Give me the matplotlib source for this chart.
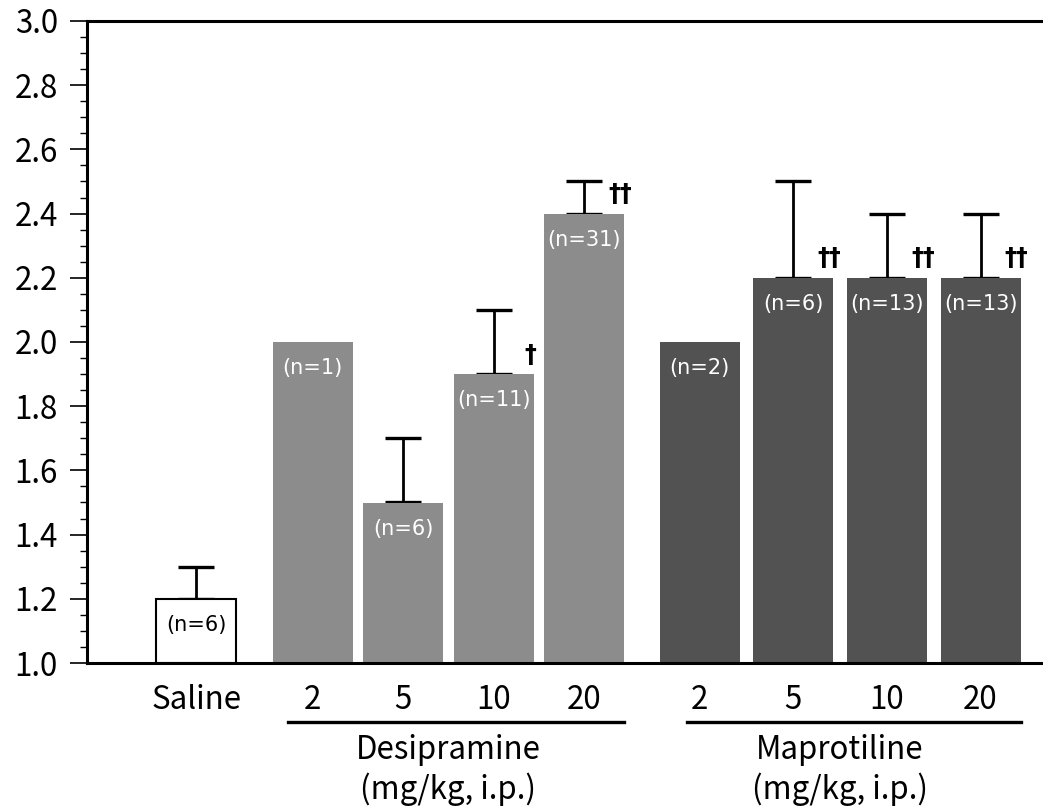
import numpy as np
import matplotlib
matplotlib.use("Agg")
import matplotlib.pyplot as plt
from matplotlib.ticker import MultipleLocator
import matplotlib.transforms as mtransforms

plt.rcParams['font.family'] = ['Noto Sans CJK JP', 'DejaVu Sans']

# data
tick_labels = ["Saline", "2", "5", "10", "20", "2", "5", "10", "20"]
groups = ["Saline", "Desipramine", "Desipramine", "Desipramine", "Desipramine",
          "Maprotiline", "Maprotiline", "Maprotiline", "Maprotiline"]
means = [1.2, 2.0, 1.5, 1.9, 2.4, 2.0, 2.2, 2.2, 2.2]
upper_err = [0.1, 0.0, 0.2, 0.2, 0.1, 0.0, 0.3, 0.2, 0.2]
n_labels = ["(n=6)", "(n=1)", "(n=6)", "(n=11)", "(n=31)",
            "(n=2)", "(n=6)", "(n=13)", "(n=13)"]
marks = ["", "", "", "\u2020", "\u2020\u2020", "", "\u2020\u2020", "\u2020\u2020", "\u2020\u2020"]
group_names = ["Desipramine", "Maprotiline"]
unit_label = "(mg/kg, i.p.)"

colors = {"Saline": "white", "Desipramine": "#8c8c8c", "Maprotiline": "#525252"}
text_colors = {"Saline": "black", "Desipramine": "white", "Maprotiline": "white"}

# x positions (layout)
x = np.array([0.0] + [1.265 + 0.984 * i for i in range(4)] + [5.47 + 1.018 * i for i in range(4)])
width = 0.87

fig = plt.figure(figsize=(10.43, 8.08), dpi=100)
ax = fig.add_axes([87 / 1043, 1 - 663 / 808, 1 - 87 / 1043, (663 - 21) / 808])

for i in range(len(means)):
    g = groups[i]
    ax.bar(x[i], means[i] - 1.0, bottom=1.0, width=width, color=colors[g],
           edgecolor="black" if g == "Saline" else "none",
           linewidth=1.5 if g == "Saline" else 0, zorder=2)
    if upper_err[i] > 0:
        ax.errorbar(x[i], means[i], yerr=[[0], [upper_err[i]]], fmt="none",
                    ecolor="black", elinewidth=2, capsize=13, capthick=2.4, zorder=1)
    ax.annotate(n_labels[i], (x[i], means[i]), xytext=(0, -19), textcoords="offset points",
                ha="center", va="center", fontsize=15, color=text_colors[g], zorder=3,
                family="DejaVu Sans")
    if marks[i]:
        ax.annotate(marks[i], (x[i], means[i]), xytext=(26, 14), textcoords="offset points",
                    ha="center", va="center", fontsize=17, fontweight="bold", color="black",
                    family="DejaVu Sans")

ax.set_ylim(1.0, 3.0)
ax.set_xlim(-1.188, 9.203)
ax.yaxis.set_major_locator(MultipleLocator(0.2))
ax.yaxis.set_minor_locator(MultipleLocator(0.05))
ax.yaxis.set_major_formatter(plt.FormatStrFormatter("%.1f"))
ax.tick_params(axis="y", which="major", length=12, width=1.2, labelsize=22.5, pad=9)
ax.tick_params(axis="y", which="minor", length=5, width=1.0)

ax.set_xticks(x)
ax.set_xticklabels(tick_labels)
ax.tick_params(axis="x", length=0, labelsize=22.5, pad=15)

for s in ["left", "bottom", "top"]:
    ax.spines[s].set_linewidth(2.2)
ax.spines["right"].set_visible(False)

# group underlines and labels
trans = mtransforms.blended_transform_factory(ax.transData, ax.transAxes)
line_spans = [(x[1] - 0.27, x[4] + 0.435), (x[5] - 0.14, x[8] + 0.435)]
group_centers = [x[1:5].mean(), x[5:9].mean()]
for (x0, x1), xc, name in zip(line_spans, group_centers, group_names):
    ax.plot([x0, x1], [-0.092, -0.092], color="black", lw=2.4, transform=trans, clip_on=False)
    ax.text(xc, -0.1355, name, transform=trans, ha="center", va="center", fontsize=22.5)
    ax.text(xc, -0.196, unit_label, transform=trans, ha="center", va="center", fontsize=22.5)

fig.savefig("out.png", dpi=100)
